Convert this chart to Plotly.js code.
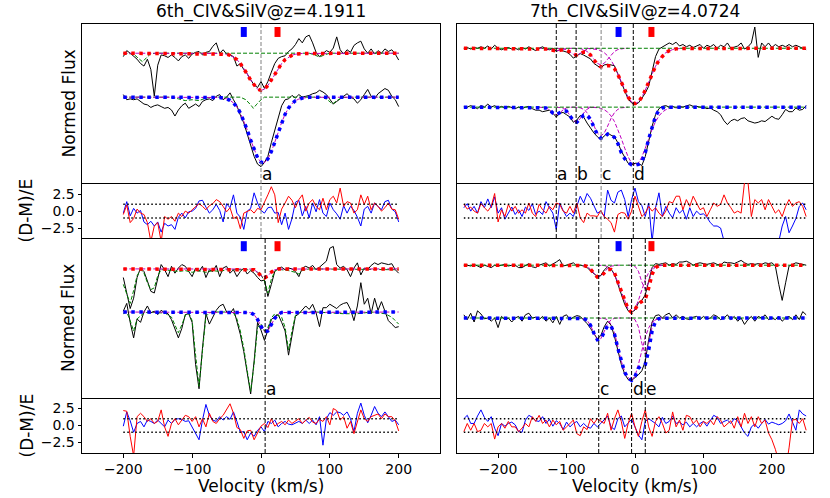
<!DOCTYPE html>
<html><head><meta charset="utf-8">
<script src="https://cdn.plot.ly/plotly-3.0.1.min.js"></script>
<style>html,body{margin:0;padding:0;background:#fff}#plot{width:830px;height:498px}</style>
</head><body><div id="plot"></div>
<script>
// ---------------- DATA ----------------
const velL = [-200,-195,-190,-185,-180,-175,-170,-165,-160,-155,-150,-145,-140,-135,-130,-125,-120,-115,-110,-105,-100,-95,-90,-85,-80,-75,-70,-65,-60,-55,-50,-45,-40,-35,-30,-25,-20,-15,-10,-5,0,5,10,15,20,25,30,35,40,45,50,55,60,65,70,75,80,85,90,95,100,105,110,115,120,125,130,135,140,145,150,155,160,165,170,175,180,185,190,195,200];
const velR = [-250,-245,-240,-235,-230,-225,-220,-215,-210,-205,-200,-195,-190,-185,-180,-175,-170,-165,-160,-155,-150,-145,-140,-135,-130,-125,-120,-115,-110,-105,-100,-95,-90,-85,-80,-75,-70,-65,-60,-55,-50,-45,-40,-35,-30,-25,-20,-15,-10,-5,0,5,10,15,20,25,30,35,40,45,50,55,60,65,70,75,80,85,90,95,100,105,110,115,120,125,130,135,140,145,150,155,160,165,170,175,180,185,190,195,200,205,210,215,220,225,230,235,240,245,250];

const titles = ["6th_CIV&SiIV@z=4.1911", "7th_CIV&SiIV@z=4.0724"];
const xTickVals = [-200,-100,0,100,200];
const xTickText = ["\u2212200","\u2212100","0","100","200"];
const resTickVals = [2.5, 0, -2.5];
const resTickText = ["2.5","0.0","\u22122.5"];
const resBand = [1, -1];

const compLT = [0], labLT = ["a"], colLT = ["#808080"];
const compLB = [6], labLB = ["a"], colLB = ["black"];
const compRT = [-115,-86,-49.5,-2.5], labRT = ["a","b","c","d"], colRT = ["black","black","#808080","black"];
const compRB = [-53,-5,15], labRB = ["c","d","e"], colRB = ["black","black","black"];
const markVelL = [-25, 24], markVelR = [-24, 24];

// ---- Left top (flux, %) ----
const ltUpper = [96,103,100,97,93,88,85,93,81,50, 86,98,97,95,98,95,91,96,98,94, 99,101,102,98,101,102,108,112,100,104, 99,98,96,85,88,81,76,69,63,60, 67, 59,67,78,88,94,96,97,102,105,110, 117,112,119,121,112,101,96,99,103,101, 106,119,104,99,104,101,109,112,114,105, 100,105,99,103,100,105,102,104,99,92];
const ltLower = [103,97,98,97,98,95,92,91,88,90, 91,89,87,88,85,78,85,90,93,87, 90,92,89,95,97,98,96,101,103,97, 100,105,97,90,79,70,57,43,31,22, 19, 24,31,47,62,78,90,97,98,102,99, 103,100,101,102,104,105,108,106,103,97, 92,95,98,102,104,100,98,93,97,103, 109,101,98,104,107,110,108,101,97,89];
const ltRedModV = [-200,-60,-50,-45,-40,-35,-30,-25,-20,-15,-10,-5,0,5,10,15,20,25,30,35,40,45,50,60,200];
const ltRedMod  = [100,99.7,98.8,97.6,95.6,92.5,88.0,82.2,75.5,68.5,62.4,58.1,56.6,58.1,62.4,68.5,75.5,82.2,88.0,92.5,95.6,97.6,98.8,99.7,100];
const ltBlueModV = [-200,-70,-60,-50,-45,-40,-35,-30,-25,-20,-15,-10,-5,0,5,10,15,20,25,30,35,40,45,50,55,60,70,200];
const ltBlueMod  = [100,99.9,99.6,98.1,96.3,93.3,88.5,81.7,72.7,61.8,49.9,38.6,29.5,24.2,23.7,28.1,36.6,47.5,59.4,70.6,80.1,87.3,92.5,95.8,97.8,98.9,99.8,100];
const ltGreenUpV = [-200,-185,-178,-172,-166,-160,-150,70,78,85,92,100,200];
const ltGreenUp  = [100,99,94,90,95,99.5,100,100,98,95.5,98,100,100];
const ltGreenLoV = [-200,-130,-120,-110,-100,-90,-80,-70,-30,-22,-15,-11,-7,0,5,90,98,104,110,118,130,200];
const ltGreenLo  = [100,100,98,96,97,96,99,100,100,97,91,87,91,97,100,100,96,92,96,99.5,100,100];
const ltResBlue = [-0.3,1.4,-0.7,0.4,-0.3,0.1,-1.6,-2.0,-1.5,-2.2, -1.6,-3.1,-1.8,-2.2,-2.0,-2.7,-0.9,-0.3,-1.0,-0.1, 0.0,0.4,1.5,1.6,0.6,-0.3,0.2,1.0,0.1,-1.6, 1.1,0.5,2.4,-0.3,-0.9,-2.7,0.0,0.4,2.7,1.2, 0.1, -0.3,0.5,0.6,-0.3,-0.2,-2.0,-0.3,-2.7,-1.1,1.3, 1.6,-0.7,0.7,-1.0,1.2,-0.1,1.7,-0.3,-0.8,1.2, 0.2,-0.4,-1.2,0.8,-0.3,0.7,0.1,-0.9,-2.2,0.3, 0.7,-0.3,1.2,0.7,0.2,1.4,1.6,0.3,-0.1,-1.6];
const ltResRed = [-0.5,0.9,-1.7,-1.1,0.3,-0.3,-0.5,-1.7,-4.5,-2.2, -1.7,-4.5,-0.8,-1.2,-0.8,-1.5,-0.3,-0.8,0.0,-0.3, 0.2,0.6,1.1,0.7,0.2,0.8,1.1,1.7,1.4,0.7, -0.1,0.5,-1.1,-0.8,-2.6,-0.3,0.0,0.2,-0.3,0.4, 0.2, 1.2,2.4,3.6,2.4,-1.7,0.3,1.2,2.2,1.6,0.5, 1.7,2.4,0.0,1.2,1.7,0.7,0.2,1.9,0.2,1.7, 2.2,1.2,3.4,0.7,1.4,1.2,-0.3,0.2,2.4,1.0, 2.2,0.2,1.2,0.7,0.0,0.5,1.2,0.3,0.2,-1.2];

// ---- Left bottom ----
const lbUpper = [90,72,54,66,90,101,97,86,74,72, 90,105,99,91,103,95,101,105,103,97, 91,101,97,103,90,99,97,104,91,101, 103,95,99,91,97,101,94,98,95,90, 86, 87,68,82,97,101,102,99,101,100,97, 91,101,103,101,104,99,102,105,109,124, 126,105,101,103,99,91,101,107,93,101, 99,104,107,105,107,106,105,106,99,95];
const lbLower = [101,110,88,70,92,88,100,107,99,101, 97,102,99,98,91,81,70,81,97,98, 88,39,11,58,98,86,95,102,107,109, 100,98,104,88,74,54,31,5,43,88, 79, 67,79,91,95,97,88,78,50,72,95, 98,103,107,103,109,99,83,105,105,109, 106,104,108,110,111,103,90,107,134,109, 116,98,116,102,112,102,90,86,82,83];
const lbRedModV = [-200,-15,-10,-5,0,5,10,15,20,25,200];
const lbRedMod  = [100,99.8,98.9,96.2,91.9,89.5,91.9,96.2,98.9,99.8,100];
const lbBlueModV = [-200,-15,-10,-5,0,5,10,15,20,25,30,200];
const lbBlueMod  = [100,99.3,96.8,91.4,83.4,77.3,78.1,85.0,92.7,97.5,99.4,100];
const lbGreenUpV = [-200,-195,-190,-185,-180,-175,-170,-165,-160,-155,-150,-145,-140,-130,-120,-110,-100,-90,-80,-70,-60,-50,-40,-30,-20,-10,-5,0,5,10,15,20,25,30,40,50,55,60,70,200];
const lbGreenUp  = [82,70,60,75,92,99,95,84,76,78,92,99,99,98,97,98,96,98,96,98,97,99,99,99,99,98,96,93,86,72,88,97,100,99,98,96,94,98,100,99];
const lbGreenLoV = [-200,-195,-190,-185,-180,-175,-170,-160,-150,-140,-130,-125,-120,-115,-110,-105,-100,-95,-90,-85,-80,-75,-70,-60,-50,-40,-35,-30,-25,-20,-15,-10,-5,0,5,10,15,20,30,35,40,45,50,55,60,80,100,120,140,150,160,180,190,200];
const lbGreenLo  = [98,100,90,78,92,96,99,100,99,99,94,85,76,85,96,99,90,50,14,55,95,99,100,100,100,99,92,78,58,32,8,40,82,86,78,82,93,98,94,82,56,78,96,99,100,100,99,98,98,99,100,98,94,86];
const lbResBlue = [-0.1,2.0,0.7,-1.0,0.3,0.6,-0.2,0.8,0.6,0.3, 0.8,0.3,-0.2,0.8,0.3,0.9,1.0,0.9,0.6,0.7, -0.3,-1.1,-2.1,0.8,3.1,1.5,0.8,0.6,1.3,0.8, 1.3,0.9,2.0,0.6,-1.0,-0.9,-2.1,-1.1,-1.6,-0.7, -0.2, -0.9,0.6,0.3,0.8,-0.2,0.3,0.6,0.2,0.1,0.3, 0.6,0.3,0.8,0.3,0.8,0.1,1.3,-2.9,1.0,1.9, 1.5,2.0,1.9,1.5,2.0,1.0,-0.9,1.8,3.3,1.5, 0.4,1.5,2.8,1.8,1.3,2.0,1.3,0.6,0.8,0.1];
const lbResRed = [2.2,2.1,-1.6,-4.5,1.3,1.8,1.3,0.6,1.0,0.3, 0.6,2.3,-0.2,-1.6,0.3,1.0,0.1,0.8,1.5,1.3, 0.6,1.3,-0.2,1.0,-0.2,1.8,0.6,0.3,1.0,1.5, 2.3,3.2,1.8,-0.3,-0.6,-1.9,-0.8,-0.7,-2.1,-1.1, -0.1, 0.3,-0.3,1.0,-0.1,0.3,0.6,0.1,0.8,0.3,0.7, 1.0,0.3,0.7,1.2,0.5,0.3,0.9,0.6,1.3,0.1, 2.5,2.2,0.8,1.3,-0.4,0.6,-1.2,0.6,2.3,1.0, 0.6,1.3,1.5,1.7,1.0,1.7,1.3,1.3,0.7,-0.8];

// ---- Right top ----
const rtUpper = [100,101,99,101,100,102,100,103,99,104, 100,98,100,101,99,100,98,101,99,102, 99,97,100,102,99,98,100,96,98,97, 95,92,87,90,93,91,89,86,80,77, 74,78,79,78,77,66,56,44,33,28, 26, 28,34,41,50,69,89,99,102,105,107, 105,108,103,105,102,104,101,103,105,100, 104,102,105,100,104,102,107,100,102,103, 107,99,102,107,128,88,107,102,107,101, 105,102,104,102,105,102,104,102,101,98];
const rtLower = [101,100,102,100,98,102,100,104,100,102, 99,101,99,101,100,98,100,98,100,101, 98,96,96,94,95,96,92,87,92,93, 90,87,80,83,89,87,79,72,66,61, 57,62,66,63,61,53,42,34,26,24, 26, 26,23,35,57,75,90,98,101,102,100, 101,99,101,100,102,103,101,101,100,100, 98,99,96,94,90,82,77,82,84,82, 85,86,82,80,79,80,82,81,85,88, 85,84,90,97,94,94,99,96,97,102];
const rtRedModV = [-250,-140,-135,-130,-125,-120,-115,-110,-105,-100,-95,-90,-85,-80,-75,-70,-65,-60,-55,-50,-45,-40,-35,-30,-25,-20,-15,-10,-5,0,5,10,15,20,25,30,35,40,45,50,55,60,65,250];
const rtRedMod  = [100,100,100,99.7,98.9,97.3,96.5,97.2,98.2,97.8,95.2,92.1,91.1,92.7,94.9,94.7,91.1,84.8,78.8,75.5,75.5,77.0,77.0,73.1,65.5,55.4,44.9,35.6,29.3,27,29.3,35.6,44.9,55.7,66.6,76.3,84.2,90.1,94.2,96.8,98.3,99.2,99.7,100];
const rtRedCompAV = [-140,-135,-130,-125,-120,-115,-110,-105,-100,-95,-90];
const rtRedCompA  = [100,99.9,99.7,98.7,97.3,96.5,97.3,98.7,99.7,99.9,100];
const rtRedCompBV = [-115,-110,-105,-100,-95,-90,-85,-80,-75,-70,-65,-60,-55];
const rtRedCompB  = [100,99.9,99.5,98.1,95.2,92.1,91.1,93.2,96.5,98.8,99.7,99.95,100];
const rtRedCompCV = [-90,-85,-80,-75,-70,-65,-60,-55,-50,-45,-40,-35,-30,-25,-20,-15,-10];
const rtRedCompC  = [100,99.9,99.5,98.3,95.8,91.4,85.5,80.2,78,80.2,85.5,91.4,95.8,98.3,99.5,99.9,100];
const rtRedCompDV = [-70,-65,-60,-55,-50,-45,-40,-35,-30,-25,-20,-15,-10,-5,0,5,10,15,20,25,30,35,40,45,50,55,60,65,70];
const rtRedCompD  = [100,99.7,99.2,98.3,96.8,94.2,90.1,84.2,76.3,66.6,55.7,44.9,35.6,29.3,27,29.3,35.6,44.9,55.7,66.6,76.3,84.2,90.1,94.2,96.8,98.3,99.2,99.7,100];
const rtBlueModV = [-250,-140,-135,-130,-125,-120,-115,-110,-105,-100,-95,-90,-85,-80,-75,-70,-65,-60,-55,-50,-45,-40,-35,-30,-25,-20,-15,-10,-5,0,5,10,15,20,25,30,35,40,45,50,250];
const rtBlueMod  = [100,100,99.8,99.0,96.4,92.3,90,92.1,95.2,94.7,89.2,82.3,80.1,84.1,89.5,89.6,83.9,73.6,64,59,60,64.5,64,60,52,40,32,27,24,23.5,24.5,28,40,58,75,88,96,99,99.8,100,100];
const rtBlueCompAV = [-140,-135,-130,-125,-120,-115,-110,-105,-100,-95,-90];
const rtBlueCompA  = [100,99.8,99.0,96.4,92.3,90,92.3,96.4,99.0,99.8,100];
const rtBlueCompBV = [-115,-110,-105,-100,-95,-90,-85,-80,-75,-70,-65,-60,-55];
const rtBlueCompB  = [100,99.8,98.8,95.7,89.4,82.4,80.2,84.9,92.2,97.3,99.4,99.9,100];
const rtBlueCompCV = [-90,-85,-80,-75,-70,-65,-60,-55,-50,-45,-40,-35,-30,-25,-20,-15,-10];
const rtBlueCompC  = [100,99.8,99.1,97.1,92.8,85.2,74.9,65.8,62,65.8,74.9,85.2,92.8,97.1,99.1,99.8,100];
const rtBlueCompDV = [-70,-65,-60,-55,-50,-45,-40,-35,-30,-25,-20,-15,-10,-5,0,5,10,15,20,25,30,35,40,45,50,55,60,65,70];
const rtBlueCompD  = [100,99.9,99.7,99.3,98.4,96.6,93.5,88.4,81.0,70.9,58.7,45.9,34.4,26.4,23.5,26.4,34.4,45.9,58.7,70.9,81.0,88.4,93.5,96.6,98.4,99.3,99.7,99.9,100];
const rtResBlue = [0.5,1.1,0.0,0.7,-0.3,1.4,0.5,1.8,0.5,2.1, -0.3,0.5,-1.2,-0.3,0.6,-0.5,0.2,-0.8,0.6,0.1, 1.1,-0.5,0.0,-0.5,1.4,0.5,-0.3,-2.7,1.2,0.1, -0.8,-0.3,-0.8,0.7,2.2,1.2,2.6,1.9,0.8,-0.3, 0.0,-0.8,3.1,1.6,1.2,2.8,3.1,1.7,-0.8,1.7, 3.4, 1.4,0.8,-0.8,1.2,-4.5,0.5,2.7,-0.8,0.7,-0.3, -1.0,0.5,-0.3,0.2,-1.2,0.5,-0.8,0.0,-0.5,-0.4, -0.9,-1.7,-2.2,-2.2,-2.5,-4.4,-6.0,-7.0,-6.5,-7.5, -6.8,-7.2,-6.0,-6.5,-7.0,-6.2,-5.5,-6.0,-5.0,-5.5, -4.8,-4.5,-2.2,-0.8,-3.2,-2.2,-1.1,0.7,1.2,0.2];
const rtResRed = [1.0,0.3,0.6,0.0,-0.3,1.1,0.5,0.0,0.7,2.6, -1.6,0.2,-0.8,1.0,0.0,0.7,-0.3,0.2,-0.3,1.2, -0.3,-0.8,1.0,0.2,-0.3,0.7,0.2,1.2,1.0,0.0, -0.3,0.7,-0.3,1.2,-1.0,-1.7,-0.3,-0.7,-0.7,-0.8, 0.1,-0.8,-1.2,-1.7,-3.1,-0.5,-0.2,-0.3,-1.2,0.0, 2.2, 0.7,-0.8,-0.3,0.7,0.0,0.5,-0.3,-0.8,0.0,1.4, 1.2,2.2,2.2,0.2,1.7,0.7,2.2,1.2,0.2,0.5, -0.8,0.2,1.2,0.7,1.0,2.4,1.2,0.5,-0.3,0.0, -0.3,4.3,4.3,-0.8,1.7,1.2,1.7,0.2,1.7,0.7, -0.3,0.2,-0.8,0.7,1.7,0.7,1.2,1.4,0.7,-0.8];

// ---- Right bottom ----
const rbUpper = [100,100,99,101,99,97,100,98,97,100, 99,100,101,99,100,100,97,97,99,102, 98,97,100,102,103,99,101,104,107,99, 100,102,103,99,100,99,97,93,90,86, 87,94,98,95,89,77,63,51,43,41, 44, 53,56,63,80,97,102,101,102,103,100, 102,101,104,104,105,103,100,102,103,102, 101,102,103,101,100,104,103,103,102,104, 106,103,101,102,101,102,101,103,102,103, 99,76,56,78,99,101,103,102,101,100];
const rbLower = [104,98,106,95,109,105,99,100,96,100, 88,102,98,100,95,100,102,96,104,106, 100,101,98,102,96,100,94,102,92,102, 104,98,101,103,102,98,93,87,81,74, 78,89,96,91,77,59,42,30,23,22, 25, 29,34,46,73,95,103,104,100,104,106, 100,104,100,102,99,98,101,102,98,102, 99,100,104,102,98,100,104,98,102,96, 100,92,98,102,96,102,100,104,98,100, 98,102,96,100,102,98,104,98,108,104];
const rbRedModV = [-250,-80,-75,-70,-65,-60,-55,-50,-45,-40,-35,-30,-25,-20,-15,-10,-5,0,5,10,15,20,25,30,35,40,250];
const rbRedMod  = [100,99.9,99.7,98.4,95.1,89.7,85.2,85.8,90.5,94.5,94.7,90.5,79,67,56.1,45.2,41,44.6,51.9,55,57.3,71.5,88.7,97.1,99.4,99.9,100];
const rbRedCompCV = [-85,-80,-75,-70,-65,-60,-55,-50,-45,-40,-35,-30,-25,-20];
const rbRedCompC  = [100,99.95,99.7,98.4,95.1,89.8,85.5,86,91,96,98.8,99.8,100,100];
const rbRedCompDV = [-55,-50,-45,-40,-35,-30,-25,-20,-15,-10,-5,0,5,10,15,20,25,30,35,40,45];
const rbRedCompD  = [100,99.9,99.5,98.4,95.2,88,79,67,56.1,45.2,41,45.2,56.1,69.7,81.9,90.7,95.9,98.4,99.5,99.9,100];
const rbRedCompEV = [-10,-5,0,5,10,15,20,25,30,35,40];
const rbRedCompE  = [100,99.9,98.7,92.5,78.8,70,78.8,92.5,98.7,99.9,100];
const rbBlueModV = [-250,-80,-75,-70,-65,-60,-55,-50,-45,-40,-35,-30,-25,-20,-15,-10,-5,0,5,10,15,20,25,30,35,40,250];
const rbBlueMod  = [100,99.9,99.4,97.1,90.9,81,72.9,73.9,82.6,90.5,90,80,62,45,32,25,22,27,37.3,40.9,41.9,59.9,83.9,95.9,99.2,99.8,100];
const rbBlueCompCV = [-85,-80,-75,-70,-65,-60,-55,-50,-45,-40,-35,-30,-25,-20];
const rbBlueCompC  = [100,99.9,99.4,97.1,90.9,81,72.9,74,83.2,92.4,97.8,99.6,99.95,100];
const rbBlueCompDV = [-55,-50,-45,-40,-35,-30,-25,-20,-15,-10,-5,0,5,10,15,20,25,30,35,40,45];
const rbBlueCompD  = [100,99.8,99.3,97.9,92,82,64,46,33,25.5,22,27.5,42,59.9,76.1,87.8,94.5,97.9,99.3,99.8,100];
const rbBlueCompEV = [-10,-5,0,5,10,15,20,25,30,35,40];
const rbBlueCompE  = [100,99.8,98,88.8,68.2,55,68.2,88.8,98,99.9,100];
const rbResBlue = [1.0,1.5,0.3,0.3,1.4,2.3,1.2,0.6,1.3,-0.4, -1.5,0.3,-0.1,0.3,0.5,0.1,-0.9,-1.0,0.8,1.5, 1.2,0.7,0.6,1.3,0.3,0.9,-0.1,0.7,0.3,-0.6, 0.5,-0.2,0.3,0.6,-0.2,0.3,-0.2,-0.4,0.3,-0.2, 0.3,0.8,1.4,-0.2,-0.6,1.0,1.4,-0.2,0.3,0.9, -0.2, -1.4,-2.1,0.6,1.0,0.7,0.3,-0.2,1.2,0.3,0.6, 1.4,0.3,0.5,0.1,0.5,-0.2,0.3,-0.2,0.3,0.6, -0.1,0.8,1.5,1.2,0.3,0.6,0.8,0.3,1.0,0.7, -0.3,-1.1,-1.6,-0.2,0.2,-0.4,0.3,0.9,0.2,0.5, 0.3,0.1,0.3,0.7,1.7,0.4,-0.7,2.3,1.7,1.4];
const rbResRed = [-0.9,0.3,-0.7,0.3,-0.9,-0.7,0.3,-0.2,0.3,-2.0, -0.2,0.3,-0.4,0.6,-0.2,-0.2,-0.9,-0.4,0.3,-0.2, 1.3,0.6,1.5,0.3,0.8,-0.2,0.8,0.1,0.6,-0.7, -0.2,0.3,0.8,-1.2,-1.5,-0.2,-0.6,1.0,0.3,1.0, 0.6,0.3,1.8,-0.7,1.0,2.3,0.6,-1.9,0.3,1.8, -0.2, -1.6,0.6,2.3,-0.2,-1.6,0.6,1.3,0.3,-1.1,-0.7, 2.0,-0.2,0.8,-0.7,1.5,1.3,0.3,0.8,-0.2,0.6, 0.3,0.8,0.1,1.3,0.8,-0.2,0.3,0.7,-0.4,1.3, -0.2,1.8,0.3,1.3,-0.2,1.3,0.3,0.8,-1.1,-2.1, -3.5,-6.0,-7.0,-6.5,-3.3,0.8,0.9,0.3,1.0,-0.7];
const contV = [-250, 250], contF = [100, 100];

// ---------------- LAYOUT CONSTANTS ----------------
const W = 830, H = 498;
const XL = [82/W, 440/W], XR = [457/W, 813/W];
const D_FT = [1-183/H, 1-24/H], D_RT = [1-238/H, 1-183/H], D_FB = [1-398/H, 1-238/H], D_RB = [1-453/H, 1-398/H];
const FONT = "DejaVu Sans";
const RED = "#ff0000", BLUE = "#0000ff", MAG = "#bf00bf", GRN = "#008000";
const DASH = "4px,2px", DOTM = "3.5px,4.5px";

const traces = [];
function add(xa, ya, x, y, color, width, dash){
  traces.push({type:"scatter", mode:"lines", x:x, y:y, xaxis:xa, yaxis:ya,
    line:{color:color, width:width, dash:dash||"solid"}, hoverinfo:"skip", showlegend:false});
}
const fl = (arr, off) => arr.map(v => v/100 + off);

function fluxPanel(xa, ya, vel, up, lo, offU, greens, comps, redM, blueM, markV, markY, greenOnTop){
  add(xa, ya, vel, fl(up, offU), "black", 1);
  add(xa, ya, vel, fl(lo, 0), "black", 1);
  const g = () => greens.forEach(q => add(xa, ya, q[0], fl(q[1], q[2] ? offU : 0), GRN, 1, DASH));
  if(!greenOnTop) g();
  comps.forEach(c => add(xa, ya, c[0], fl(c[1], c[2] ? offU : 0), MAG, 1, DASH));
  if(greenOnTop) g();
  add(xa, ya, redM[0], fl(redM[1], offU), RED, 3.5, DOTM);
  add(xa, ya, blueM[0], fl(blueM[1], 0), BLUE, 3.5, DOTM);
  add(xa, ya, [markV[0], markV[0]], markY, BLUE, 6);
  add(xa, ya, [markV[1], markV[1]], markY, RED, 6);
}
function resPanel(xa, ya, vel, rb, rr, vr){
  add(xa, ya, vel, rb, BLUE, 1);
  add(xa, ya, vel, rr, RED, 1);
  add(xa, ya, vr, [resBand[0], resBand[0]], "black", 1.5, "1.5px,2.5px");
  add(xa, ya, vr, [resBand[1], resBand[1]], "black", 1.5, "1.5px,2.5px");
}

fluxPanel("x","y", velL, ltUpper, ltLower, 0.512,
  [[ltGreenUpV, ltGreenUp, 1],[ltGreenLoV, ltGreenLo, 0]],
  [[ltRedModV, ltRedMod, 1],[ltBlueModV, ltBlueMod, 0]],
  [ltRedModV, ltRedMod], [ltBlueModV, ltBlueMod], markVelL, [1.701, 1.817], false);
resPanel("x2","y2", velL, ltResBlue, ltResRed, [-200, 200]);
fluxPanel("x3","y3", velL, lbUpper, lbLower, 0.5,
  [[lbGreenUpV, lbGreenUp, 1],[lbGreenLoV, lbGreenLo, 0]],
  [[lbRedModV, lbRedMod, 1],[lbBlueModV, lbBlueMod, 0]],
  [lbRedModV, lbRedMod], [lbBlueModV, lbBlueMod], markVelL, [1.705, 1.821], false);
resPanel("x4","y4", velL, lbResBlue, lbResRed, [-200, 200]);
fluxPanel("x5","y5", velR, rtUpper, rtLower, 0.776,
  [[contV, contF, 1],[contV, contF, 0]],
  [[rtRedCompAV, rtRedCompA, 1],[rtRedCompBV, rtRedCompB, 1],[rtRedCompCV, rtRedCompC, 1],[rtRedCompDV, rtRedCompD, 1],
   [rtBlueCompAV, rtBlueCompA, 0],[rtBlueCompBV, rtBlueCompB, 0],[rtBlueCompCV, rtBlueCompC, 0],[rtBlueCompDV, rtBlueCompD, 0]],
  [rtRedModV, rtRedMod], [rtBlueModV, rtBlueMod], markVelR, [1.925, 2.057], true);
resPanel("x6","y6", velR, rtResBlue, rtResRed, [-250, 250]);
fluxPanel("x7","y7", velR, rbUpper, rbLower, 0.66,
  [[contV, contF, 1],[contV, contF, 0]],
  [[rbRedCompCV, rbRedCompC, 1],[rbRedCompDV, rbRedCompD, 1],[rbRedCompEV, rbRedCompE, 1],
   [rbBlueCompCV, rbBlueCompC, 0],[rbBlueCompDV, rbBlueCompD, 0],[rbBlueCompEV, rbBlueCompE, 0]],
  [rbRedModV, rbRedMod], [rbBlueModV, rbBlueMod], markVelR, [1.835, 1.961], true);
resPanel("x8","y8", velR, rbResBlue, rbResRed, [-250, 250]);

// ---------------- AXES ----------------
// top panel draws top+bottom frame lines; the others draw only their bottom line,
// so that shared borders are a single 1px line
function xax(dom, anchor, showLabels, mirrorTop){
  const a = {domain:dom, anchor:anchor, range:[-260,260], showgrid:false, zeroline:false,
    showline:true, mirror:mirrorTop, linecolor:"black", linewidth:1, fixedrange:true};
  if(showLabels){
    Object.assign(a, {tickmode:"array", tickvals:xTickVals, ticktext:xTickText, ticks:"outside",
      ticklen:3.5, tickcolor:"black", tickfont:{family:FONT, size:14, color:"black"}, showticklabels:true});
  } else { Object.assign(a, {showticklabels:false, ticks:""}); }
  return a;
}
function yax(dom, anchor, range, resLabels){
  const a = {domain:dom, anchor:anchor, range:range, showgrid:false, zeroline:false,
    showline:true, mirror:true, linecolor:"black", linewidth:1, fixedrange:true};
  if(resLabels){
    Object.assign(a, {tickmode:"array", tickvals:resTickVals, ticktext:resTickText, ticks:"outside",
      ticklen:3.5, tickcolor:"black", tickfont:{family:FONT, size:14, color:"black"}, showticklabels:true});
  } else { Object.assign(a, {showticklabels:false, ticks:""}); }
  return a;
}

const layout = {
  width:W, height:H, margin:{l:0,r:0,t:0,b:0}, paper_bgcolor:"white", plot_bgcolor:"white",
  font:{family:FONT, color:"black"}, showlegend:false,
  xaxis: xax(XL,"y",false,true),   yaxis: yax(D_FT,"x",[0,1.852],false),
  xaxis2:xax(XL,"y2",false,false), yaxis2:yax(D_RT,"x2",[-3.97,4.15],true),
  xaxis3:xax(XL,"y3",false,false), yaxis3:yax(D_FB,"x3",[0.003,1.858],false),
  xaxis4:xax(XL,"y4",true,false),  yaxis4:yax(D_RB,"x4",[-4.05,4.05],true),
  xaxis5:xax(XR,"y5",false,true),  yaxis5:yax(D_FT,"x5",[0,2.096],false),
  xaxis6:xax(XR,"y6",false,false), yaxis6:yax(D_RT,"x6",[-3.97,4.15],false),
  xaxis7:xax(XR,"y7",false,false), yaxis7:yax(D_FB,"x7",[0,2.0],false),
  xaxis8:xax(XR,"y8",true,false),  yaxis8:yax(D_RB,"x8",[-4.05,4.05],false),
  shapes:[], annotations:[]
};

function compLines(xref, vels, labs, cols, yBot, yTop, yLab){
  vels.forEach((v,i) => {
    layout.shapes.push({type:"line", xref:xref, yref:"paper", x0:v, x1:v, y0:yBot, y1:yTop,
      line:{color:cols[i], width:1, dash:DASH}});
    layout.annotations.push({xref:xref, yref:"paper", x:v, y:yLab, xanchor:"left", yanchor:"bottom",
      text:labs[i], showarrow:false, yshift:-3, xshift:-1, font:{family:FONT, size:17, color:"black"}});
  });
}
compLines("x",  compLT, labLT, colLT, D_RT[0], D_FT[1], D_FT[0]);
compLines("x3", compLB, labLB, colLB, D_RB[0], D_FB[1], D_FB[0]);
compLines("x5", compRT, labRT, colRT, D_RT[0], D_FT[1], D_FT[0]);
compLines("x7", compRB, labRB, colRB, D_RB[0], D_FB[1], D_FB[0]);

const tf = {family:FONT, size:17, color:"black"};
layout.annotations.push(
  {xref:"paper", yref:"paper", x:(XL[0]+XL[1])/2, y:1-12/H, text:titles[0], showarrow:false, xanchor:"center", yanchor:"middle", font:tf},
  {xref:"paper", yref:"paper", x:(XR[0]+XR[1])/2, y:1-12/H, text:titles[1], showarrow:false, xanchor:"center", yanchor:"middle", font:tf},
  {xref:"paper", yref:"paper", x:(XL[0]+XL[1])/2, y:1-486/H, text:"Velocity (km/s)", showarrow:false, xanchor:"center", yanchor:"middle", font:tf},
  {xref:"paper", yref:"paper", x:(XR[0]+XR[1])/2, y:1-486/H, text:"Velocity (km/s)", showarrow:false, xanchor:"center", yanchor:"middle", font:tf},
  {xref:"paper", yref:"paper", x:68/W, y:(D_FT[0]+D_FT[1])/2, text:"Normed Flux", textangle:-90, showarrow:false, xanchor:"center", yanchor:"middle", font:tf},
  {xref:"paper", yref:"paper", x:68/W, y:(D_FB[0]+D_FB[1])/2, text:"Normed Flux", textangle:-90, showarrow:false, xanchor:"center", yanchor:"middle", font:tf},
  {xref:"paper", yref:"paper", x:26/W, y:(D_RT[0]+D_RT[1])/2, text:"(D-M)/E", textangle:-90, showarrow:false, xanchor:"center", yanchor:"middle", font:tf},
  {xref:"paper", yref:"paper", x:26/W, y:(D_RB[0]+D_RB[1])/2, text:"(D-M)/E", textangle:-90, showarrow:false, xanchor:"center", yanchor:"middle", font:tf}
);

Plotly.newPlot("plot", traces, layout, {staticPlot:true, displayModeBar:false});
</script></body></html>
